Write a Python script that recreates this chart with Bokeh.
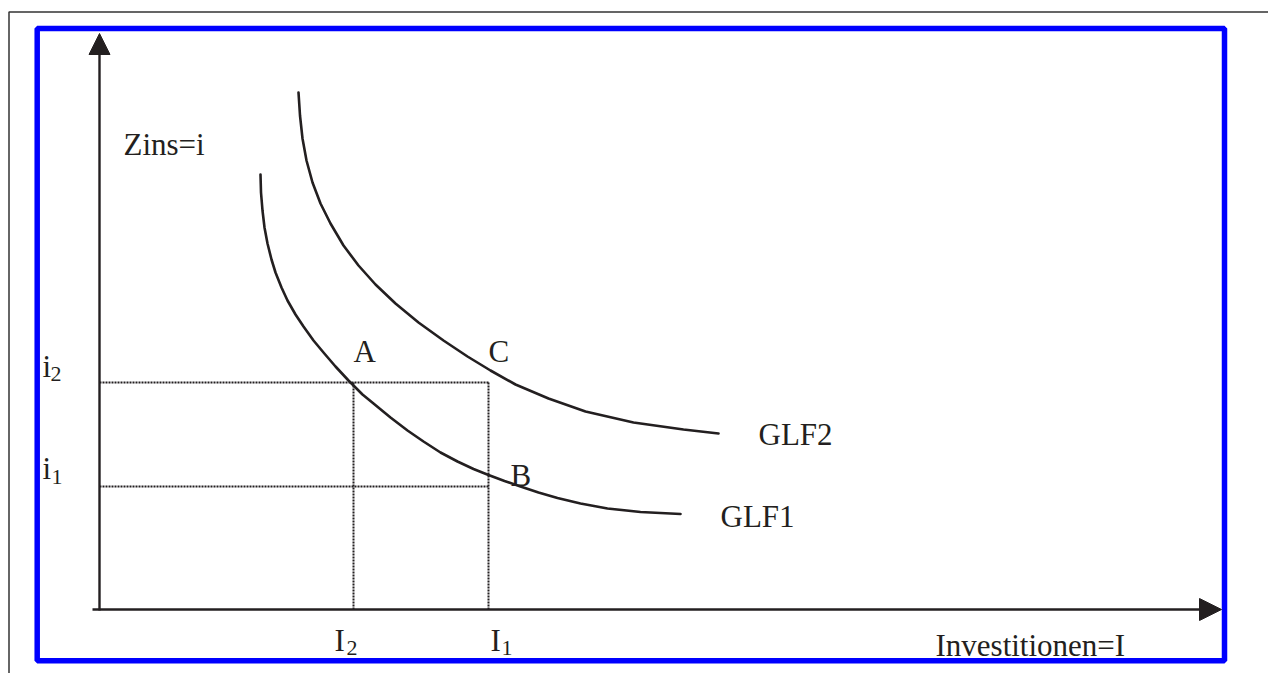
from bokeh.plotting import figure
from bokeh.models import Range1d, Arrow, NormalHead, BoxAnnotation
from bokeh.core.properties import value
from bokeh.embed import file_html
from bokeh.resources import INLINE

# ---- data (abstract units) ----
glf1_x = [1.61, 1.615, 1.63, 1.65, 1.68, 1.72, 1.76, 1.82, 1.88, 1.96, 2.04, 2.14, 2.24, 2.36,
          2.49, 2.63, 2.74, 2.91, 3.08, 3.24, 3.41, 3.58, 3.74, 3.89, 4.05, 4.21, 4.39, 4.58,
          4.81, 5.08, 5.41, 5.81]
glf1_y = [4.35, 4.17, 3.99, 3.82, 3.66, 3.50, 3.37, 3.22, 3.09, 2.95, 2.83, 2.69, 2.57, 2.43,
          2.29, 2.15, 2.06, 1.92, 1.79, 1.68, 1.57, 1.48, 1.405, 1.345, 1.285, 1.23, 1.17, 1.115,
          1.06, 1.01, 0.975, 0.955]
glf2_x = [1.99, 2.005, 2.03, 2.07, 2.13, 2.21, 2.31, 2.44, 2.59, 2.76, 2.96, 3.19, 3.44, 3.68,
          3.91, 4.16, 4.49, 4.86, 5.34, 5.84, 6.19]
glf2_y = [5.17, 4.94, 4.71, 4.49, 4.27, 4.06, 3.86, 3.64, 3.44, 3.25, 3.06, 2.87, 2.69, 2.53,
          2.39, 2.25, 2.11, 1.98, 1.87, 1.80, 1.76]

I_values = [2.54, 3.89]      # I2, I1
i_values = [2.27, 1.23]      # i2, i1
curve_names = ["GLF1", "GLF2"]
point_names = ["A", "B", "C"]
x_axis_title = "Investitionen=I"
y_axis_title = "Zins=i"
x_axis_end = 11.22
y_axis_end = 5.76

INK = "#231f20"
FONT = value("Liberation Serif")

p = figure(width=1268, height=673,
           x_range=Range1d(-0.99, 11.69), y_range=Range1d(-0.64, 6.09),
           output_backend="svg", toolbar_location=None,
           x_axis_location=None, y_axis_location=None,
           min_border=0, outline_line_color=None,
           background_fill_color="white", border_fill_color="white")
p.grid.visible = False

# outer thin frame (cropped page border) and blue frame
p.add_layout(BoxAnnotation(left=-0.905, right=99, top=5.975, bottom=-99,
                           fill_color=None, fill_alpha=0, level="underlay",
                           line_color="#333333", line_alpha=1, line_width=1.5))
p.add_layout(BoxAnnotation(left=-0.623, right=11.25, top=5.81, bottom=-0.513,
                           fill_color=None, fill_alpha=0, level="underlay",
                           line_color="#0000ff", line_alpha=1, line_width=5.5))

# dotted guide lines
I2, I1 = I_values
i2, i1 = i_values
p.multi_line(xs=[[0, I1], [0, I1], [I2, I2], [I1, I1]],
             ys=[[i2, i2], [i1, i1], [i2, 0], [i2, 0]],
             line_color=INK, line_width=2, line_dash="2 1")

# curves
p.line(glf1_x, glf1_y, line_color=INK, line_width=2.6, line_join="round", line_cap="round")
p.line(glf2_x, glf2_y, line_color=INK, line_width=2.6, line_join="round", line_cap="round")

# axes with arrow heads
p.add_layout(Arrow(end=NormalHead(size=22, fill_color=INK, line_color=INK, line_width=1),
                   x_start=-0.07, y_start=0, x_end=x_axis_end, y_end=0,
                   line_color=INK, line_width=2.4))
p.add_layout(Arrow(end=NormalHead(size=21, fill_color=INK, line_color=INK, line_width=1),
                   x_start=0, y_start=-0.01, x_end=0, y_end=y_axis_end,
                   line_color=INK, line_width=2.4))

def txt(x, y, s, size, dx=0, dy=0):
    # shift so that the glyph's baseline lands at the wanted offset
    p.text(x=[x], y=[y], text=[s], x_offset=dx, y_offset=dy - round(0.39 * size),
           text_font=FONT, text_font_size=f"{size}px", text_color=INK,
           text_align="left", text_baseline="alphabetic")

BIG, SUB = 31, 22
# axis titles
txt(0, y_axis_end, y_axis_title, BIG, 24, 123)
txt(x_axis_end, 0, x_axis_title, BIG, -286, 48)
# point labels
txt(I2, i2, point_names[0], BIG, 0, -19)
txt(I1, i1, point_names[1], BIG, 22, 1)
txt(I1, i2, point_names[2], BIG, 0, -19)
# curve labels
txt(glf1_x[-1], glf1_y[-1], curve_names[0], BIG, 40, 14)
txt(glf2_x[-1], glf2_y[-1], curve_names[1], BIG, 40, 13)
# i2 / i1 on the vertical axis
txt(0, i2, "i", BIG, -57, -4)
txt(0, i2, "2", SUB, -49, 0)
txt(0, i1, "i", BIG, -57, -6)
txt(0, i1, "1", SUB, -48, -1)
# I2 / I1 on the horizontal axis
txt(I2, 0, "I", BIG, -19, 43)
txt(I2, 0, "2", SUB, -7, 47)
txt(I1, 0, "I", BIG, 2, 43)
txt(I1, 0, "1", SUB, 13, 47)

open("out.html", "w").write(file_html(p, INLINE))
